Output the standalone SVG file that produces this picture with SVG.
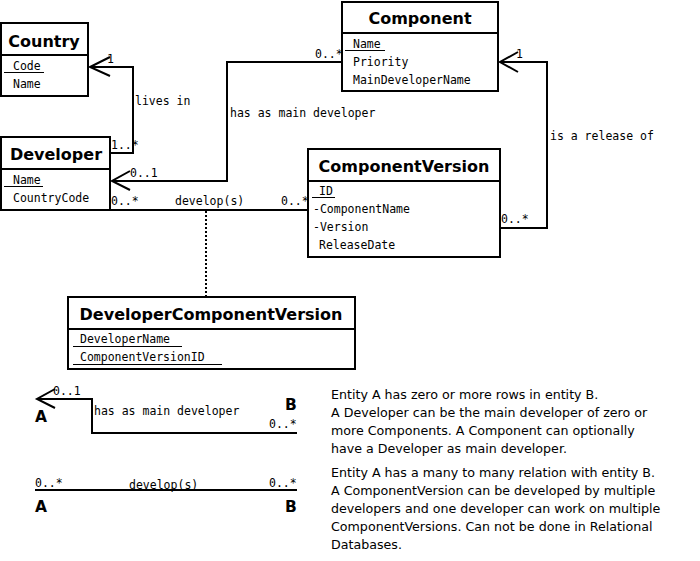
<svg xmlns="http://www.w3.org/2000/svg" width="700" height="561" viewBox="0 0 700 561">
<style>
.box{fill:#fff;stroke:#000;stroke-width:2}
.ln{fill:none;stroke:#000;stroke-width:2}
.hd{font-family:"DejaVu Sans",sans-serif;font-weight:bold;font-size:16px;fill:#000;text-anchor:middle}
.f{font-family:"DejaVu Sans Mono",monospace;font-size:11.5px;fill:#000}
.ul{stroke:#000;stroke-width:1}
.ab{font-family:"DejaVu Sans",sans-serif;font-weight:bold;font-size:15.5px;fill:#000}
.p{font-family:"DejaVu Sans",sans-serif;font-size:12.65px;fill:#000}
</style>
<rect width="700" height="561" fill="#fff"/>
<g id="connectors">
  <polyline class="ln" points="110,153 133,153 133,67 90,67"/>
  <polyline class="ln" points="110,57 90,67 110,76"/>
  <text class="f" x="107" y="63">1</text>
  <text class="f" x="111" y="149">1..*</text>
  <text class="f" x="135" y="105">lives in</text>
  <polyline class="ln" points="342,62 227,62 227,181 112,181"/>
  <polyline class="ln" points="130,171 112,181 130,190"/>
  <text class="f" x="315" y="58">0..*</text>
  <text class="f" x="230" y="117">has as main developer</text>
  <text class="f" x="130" y="177">0..1</text>
  <polyline class="ln" points="500,228 547,228 547,62 500,62"/>
  <polyline class="ln" points="518,52 500,62 518,72"/>
  <text class="f" x="516" y="58">1</text>
  <text class="f" x="550" y="140">is a release of</text>
  <text class="f" x="501" y="223">0..*</text>
  <line class="ln" x1="110" y1="210" x2="308" y2="210"/>
  <text class="f" x="111" y="205">0..*</text>
  <text class="f" x="175" y="205">develop(s)</text>
  <text class="f" x="281" y="205">0..*</text>
  <line class="ln" x1="206" y1="211" x2="206" y2="296" stroke-dasharray="2,2"/>
</g>
<g id="Country">
  <rect class="box" x="1" y="23" width="87" height="73"/>
  <line class="ln" x1="1" y1="55" x2="88" y2="55"/>
  <text class="hd" x="44" y="47">Country</text>
  <text class="f" x="13" y="70">Code</text>
  <line class="ul" x1="4" y1="72.5" x2="44" y2="72.5"/>
  <text class="f" x="13" y="88">Name</text>
</g>
<g id="Developer">
  <rect class="box" x="1" y="137" width="109" height="73"/>
  <line class="ln" x1="1" y1="169" x2="110" y2="169"/>
  <text class="hd" x="56" y="160">Developer</text>
  <text class="f" x="13" y="184">Name</text>
  <line class="ul" x1="4" y1="186.5" x2="43" y2="186.5"/>
  <text class="f" x="13" y="202">CountryCode</text>
</g>
<g id="Component">
  <rect class="box" x="342" y="2" width="156" height="89"/>
  <line class="ln" x1="342" y1="33" x2="498" y2="33"/>
  <text class="hd" x="420" y="24">Component</text>
  <text class="f" x="353" y="48">Name</text>
  <line class="ul" x1="345" y1="50.5" x2="385" y2="50.5"/>
  <text class="f" x="353" y="66">Priority</text>
  <text class="f" x="353" y="84">MainDeveloperName</text>
</g>
<g id="ComponentVersion">
  <rect class="box" x="308" y="149" width="192" height="108"/>
  <line class="ln" x1="308" y1="181" x2="500" y2="181"/>
  <text class="hd" x="404" y="172">ComponentVersion</text>
  <text class="f" x="319" y="195">ID</text>
  <line class="ul" x1="312" y1="197.5" x2="335" y2="197.5"/>
  <text class="f" x="313" y="213">-ComponentName</text>
  <text class="f" x="313" y="231">-Version</text>
  <text class="f" x="319" y="249">ReleaseDate</text>
</g>
<g id="DeveloperComponentVersion">
  <rect class="box" x="68" y="297" width="287" height="72"/>
  <line class="ln" x1="68" y1="329" x2="355" y2="329"/>
  <text class="hd" x="211" y="320">DeveloperComponentVersion</text>
  <text class="f" x="80" y="343">DeveloperName</text>
  <line class="ul" x1="73" y1="346.5" x2="182" y2="346.5"/>
  <text class="f" x="80" y="361">ComponentVersionID</text>
  <line class="ul" x1="73" y1="364.5" x2="222" y2="364.5"/>
</g>
<g id="legend">
  <polyline class="ln" points="37,399 92,399 92,433 297,433"/>
  <polyline class="ln" points="55,389 37,399 55,408"/>
  <text class="f" x="53" y="395">0..1</text>
  <text class="ab" x="35" y="422">A</text>
  <text class="ab" x="285" y="410">B</text>
  <text class="f" x="94" y="415">has as main developer</text>
  <text class="f" x="269" y="428">0..*</text>
  <line class="ln" x1="35" y1="490" x2="297" y2="490"/>
  <text class="f" x="35" y="487">0..*</text>
  <text class="f" x="129" y="489">develop(s)</text>
  <text class="f" x="269" y="487">0..*</text>
  <text class="ab" x="35" y="512">A</text>
  <text class="ab" x="285" y="512">B</text>
</g>
<g id="notes">
  <text class="p" x="331" y="399">Entity A has zero or more rows in entity B.</text>
  <text class="p" x="331" y="417">A Developer can be the main developer of zero or</text>
  <text class="p" x="331" y="435">more Components. A Component can optionally</text>
  <text class="p" x="331" y="453">have a Developer as main developer.</text>
  <text class="p" x="331" y="477">Entity A has a many to many relation with entity B.</text>
  <text class="p" x="331" y="495">A ComponentVersion can be developed by multiple</text>
  <text class="p" x="331" y="513">developers and one developer can work on multiple</text>
  <text class="p" x="331" y="531">ComponentVersions. Can not be done in Relational</text>
  <text class="p" x="331" y="549">Databases.</text>
</g>
</svg>
